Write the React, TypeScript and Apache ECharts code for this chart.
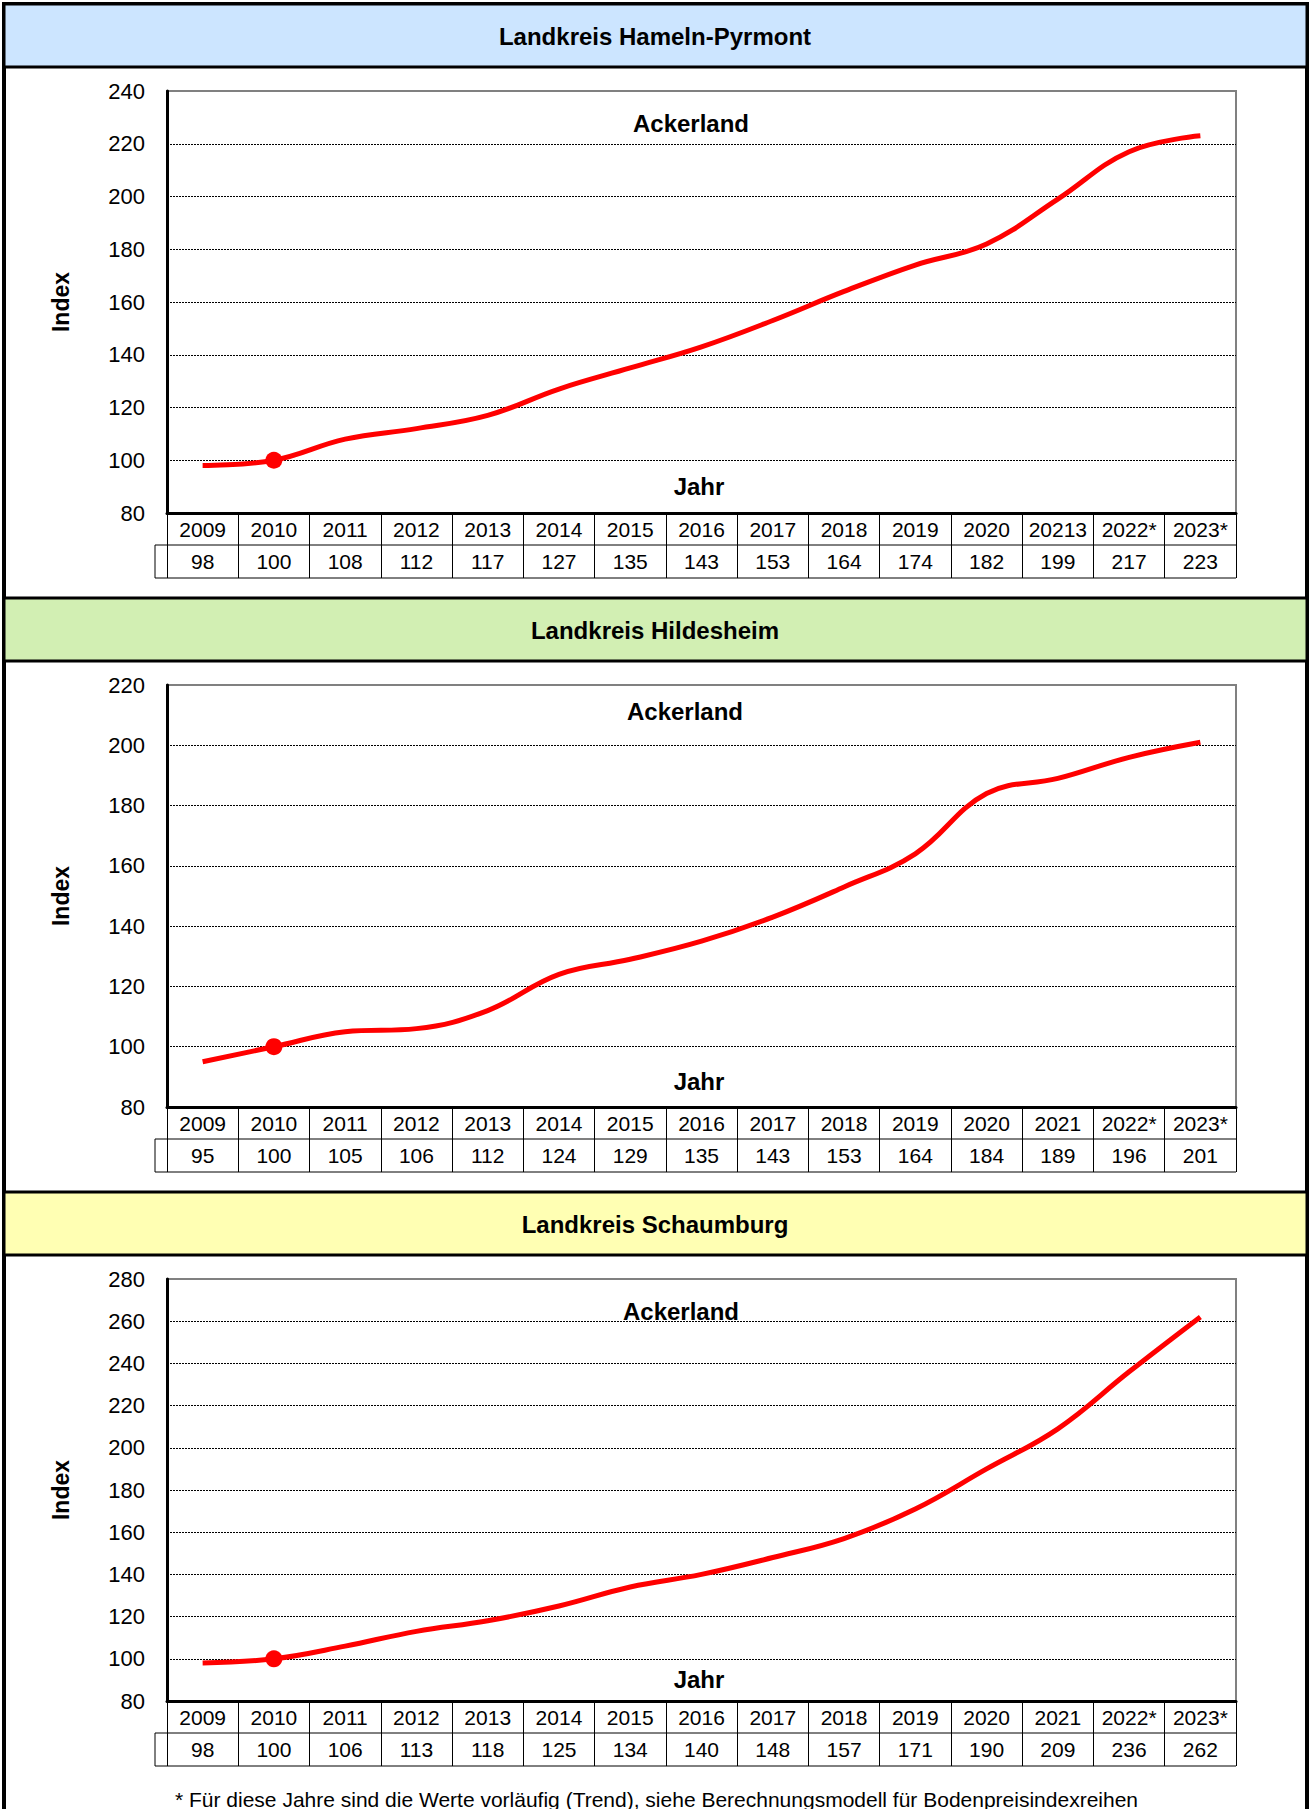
import React, { useEffect, useRef } from "react";
import * as echarts from "echarts";

const FONT = "'Liberation Sans', Arial, sans-serif";

const titles = ["Landkreis Hameln-Pyrmont", "Landkreis Hildesheim", "Landkreis Schaumburg"];
const headerColors = ["#CCE5FF", "#D2EFB3", "#FFFFB3"];

const years1 = ["2009", "2010", "2011", "2012", "2013", "2014", "2015", "2016", "2017", "2018", "2019", "2020", "20213", "2022*", "2023*"];
const years2 = ["2009", "2010", "2011", "2012", "2013", "2014", "2015", "2016", "2017", "2018", "2019", "2020", "2021", "2022*", "2023*"];
const years3 = ["2009", "2010", "2011", "2012", "2013", "2014", "2015", "2016", "2017", "2018", "2019", "2020", "2021", "2022*", "2023*"];

const values1 = [98, 100, 108, 112, 117, 127, 135, 143, 153, 164, 174, 182, 199, 217, 223];
const values2 = [95, 100, 105, 106, 112, 124, 129, 135, 143, 153, 164, 184, 189, 196, 201];
const values3 = [98, 100, 106, 113, 118, 125, 134, 140, 148, 157, 171, 190, 209, 236, 262];

const yMin = [80, 80, 80];
const yMax = [240, 220, 280];
const baseIndex = 1; // 2010 = 100

const seriesName = "Ackerland";
const xName = "Jahr";
const yName = "Index";
const footnote = "* Für diese Jahre sind die Werte vorläufig (Trend), siehe Berechnungsmodell für Bodenpreisindexreihen";

const yearsAll = [years1, years2, years3];
const valuesAll = [values1, values2, values3];

// layout
const PANEL = 594;
const PLOT_LEFT = 167;
const PLOT_W = 1069;
const PLOT_TOP = 91;
const PLOT_H = 422;
const annPos = [
  { ack: [691, 123], jahr: [699, 486] },
  { ack: [685, 711], jahr: [699, 1081] },
  { ack: [681, 1311], jahr: [699, 1679] },
];

export default function App() {
  const ref = useRef<HTMLDivElement>(null);

  useEffect(() => {
    if (!ref.current) return;
    const chart = echarts.init(ref.current, undefined, { renderer: "svg" });

    const grids: any[] = [];
    const xAxes: any[] = [];
    const yAxes: any[] = [];
    const series: any[] = [];
    const graphics: any[] = [];

    graphics.push({
      type: "rect",
      z: 0,
      shape: { x: 4, y: 4, width: 1303, height: 1840 },
      style: { fill: "none", stroke: "#000", lineWidth: 4 },
    });

    for (let i = 0; i < 3; i++) {
      const o = PANEL * i;
      grids.push({
        left: PLOT_LEFT,
        top: PLOT_TOP + o,
        width: PLOT_W,
        height: PLOT_H,
        show: true,
        borderColor: "#808080",
        borderWidth: 2,
        backgroundColor: "transparent",
      });
      xAxes.push({
        type: "category",
        gridIndex: i,
        data: yearsAll[i],
        boundaryGap: true,
        position: "bottom",
        axisLine: { show: true, onZero: false, lineStyle: { color: "#000", width: 3 } },
        axisTick: { show: true, interval: 0, length: 65, lineStyle: { color: "#000", width: 1 } },
        axisLabel: { interval: 0, margin: 5, fontSize: 21, lineHeight: 22, color: "#000", fontFamily: FONT },
        splitLine: { show: false },
      });
      xAxes.push({
        type: "category",
        gridIndex: i,
        data: valuesAll[i].map((v) => String(v)),
        boundaryGap: true,
        position: "bottom",
        offset: 32,
        axisLine: { show: false },
        axisTick: { show: false },
        axisLabel: { interval: 0, margin: 5, fontSize: 21, lineHeight: 22, color: "#000", fontFamily: FONT },
        splitLine: { show: false },
      });
      yAxes.push({
        type: "value",
        gridIndex: i,
        min: yMin[i],
        max: yMax[i],
        interval: 20,
        axisLine: { show: true, lineStyle: { color: "#000", width: 3 } },
        axisTick: { show: false },
        axisLabel: { margin: 22, fontSize: 22, color: "#000", fontFamily: FONT },
        splitLine: {
          show: true,
          showMinLine: false,
          showMaxLine: false,
          lineStyle: { color: "#000", width: 1, type: [2, 1] },
        },
        name: yName,
        nameLocation: "middle",
        nameGap: 95,
        nameRotate: 90,
        nameTextStyle: { fontWeight: "bold", fontSize: 23, color: "#000", fontFamily: FONT },
      });
      series.push({
        type: "line",
        name: seriesName,
        xAxisIndex: 2 * i,
        yAxisIndex: i,
        data: valuesAll[i].map((v, j) =>
          j === baseIndex ? { value: v, symbol: "circle", symbolSize: 17 } : { value: v, symbol: "none" }
        ),
        symbol: "none",
        showSymbol: true,
        smooth: 0.4,
        lineStyle: { color: "#ff0000", width: 5 },
        itemStyle: { color: "#ff0000" },
        silent: true,
        z: 5,
      });

      // header band
      graphics.push({
        type: "rect",
        z: 1,
        shape: { x: 4, y: 4 + o, width: 1303, height: 63 },
        style: { fill: headerColors[i], stroke: "#000", lineWidth: 3 },
      });
      graphics.push({
        type: "text",
        z: 2,
        x: 655,
        y: 36 + o,
        style: {
          text: titles[i],
          font: `bold 24px ${FONT}`,
          fill: "#000",
          align: "center",
          verticalAlign: "middle",
          textAlign: "center",
          textVerticalAlign: "middle",
        },
      });
      // table lines
      const lines = [
        [155, 545 + o, PLOT_LEFT + PLOT_W, 545 + o],
        [155, 578 + o, PLOT_LEFT + PLOT_W, 578 + o],
        [155, 545 + o, 155, 578 + o],
      ];
      lines.forEach((l) =>
        graphics.push({
          type: "line",
          z: 2,
          shape: { x1: l[0], y1: l[1], x2: l[2], y2: l[3] },
          style: { stroke: "#000", lineWidth: 1 },
        })
      );
      graphics.push({
        type: "text",
        z: 2,
        x: annPos[i].ack[0],
        y: annPos[i].ack[1],
        style: {
          text: seriesName,
          font: `bold 24px ${FONT}`,
          fill: "#000",
          align: "center",
          verticalAlign: "middle",
          textAlign: "center",
          textVerticalAlign: "middle",
        },
      });
      graphics.push({
        type: "text",
        z: 2,
        x: annPos[i].jahr[0],
        y: annPos[i].jahr[1],
        style: {
          text: xName,
          font: `bold 24px ${FONT}`,
          fill: "#000",
          align: "center",
          verticalAlign: "middle",
          textAlign: "center",
          textVerticalAlign: "middle",
        },
      });
    }

    graphics.push({
      type: "text",
      z: 2,
      x: 175,
      y: 1799,
      style: {
        text: footnote,
        font: `21px ${FONT}`,
        fill: "#000",
        align: "left",
        verticalAlign: "middle",
        textAlign: "left",
        textVerticalAlign: "middle",
      },
    });

    chart.setOption({
      animation: false,
      backgroundColor: "#fff",
      textStyle: { fontFamily: FONT },
      graphic: { elements: graphics.map((g) => ({ ...g, silent: true })) },
      grid: grids,
      xAxis: xAxes,
      yAxis: yAxes,
      series,
    });

    return () => chart.dispose();
  }, []);

  return (
    <div
      ref={ref}
      style={{ position: "absolute", left: 0, top: 0, width: 1311, height: 1809 }}
    />
  );
}
